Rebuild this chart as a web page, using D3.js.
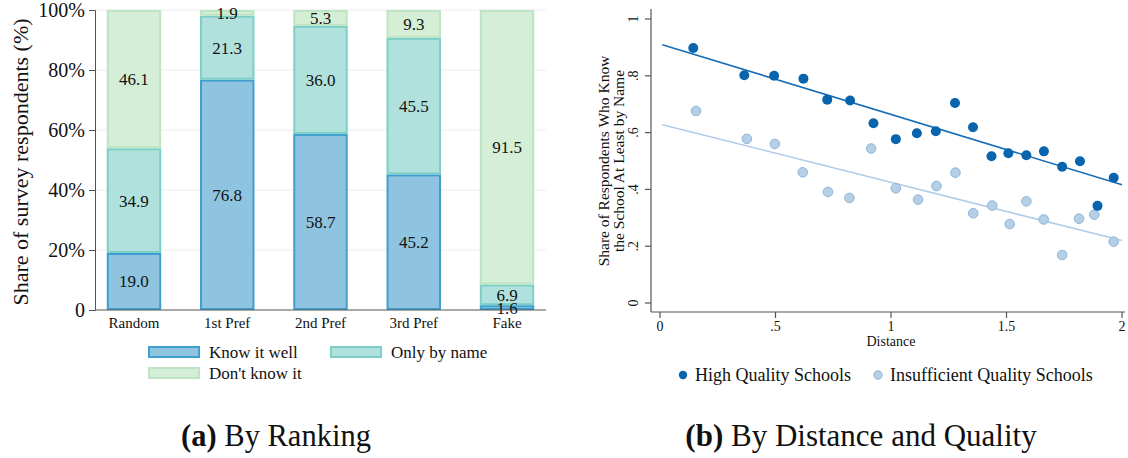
<!DOCTYPE html>
<html>
<head>
<meta charset="utf-8">
<script src="https://cdn.jsdelivr.net/npm/d3@7"></script>
<style>
  html, body { margin: 0; padding: 0; background: #fff; }
  svg { display: block; }
  text { font-family: "Liberation Serif", "DejaVu Serif", serif; fill: #111; }
</style>
</head>
<body>
<svg id="fig" width="1128" height="458"></svg>
<script>
// ---------- Panel (a): knowledge of schools by ranking ----------
const categories = ["Random", "1st Pref", "2nd Pref", "3rd Pref", "Fake"];
const knowWell   = [19.0, 76.8, 58.7, 45.2, 1.6];
const byName     = [34.9, 21.3, 36.0, 45.5, 6.9];
const dontKnow   = [46.1, 1.9, 5.3, 9.3, 91.5];
const seriesNames = ["Know it well", "Only by name", "Don't know it"];
const pctTicks = [0, 20, 40, 60, 80, 100];
const pctTickLabels = ["0", "20%", "40%", "60%", "80%", "100%"];

// ---------- Panel (b): share knowing the school, by distance ----------
const highDist  = [0.144, 0.365, 0.494, 0.621, 0.724, 0.823, 0.924, 1.021, 1.112, 1.194,
                   1.277, 1.355, 1.435, 1.508, 1.586, 1.662, 1.741, 1.818, 1.894, 1.964];
const highShare = [0.898, 0.802, 0.800, 0.790, 0.716, 0.713, 0.633, 0.577, 0.598, 0.605,
                   0.704, 0.619, 0.517, 0.527, 0.520, 0.534, 0.480, 0.499, 0.342, 0.441];
const lowDist   = [0.156, 0.376, 0.497, 0.618, 0.727, 0.820, 0.914, 1.021, 1.117, 1.197,
                   1.279, 1.356, 1.438, 1.514, 1.586, 1.661, 1.741, 1.814, 1.880, 1.964];
const lowShare  = [0.676, 0.578, 0.560, 0.460, 0.391, 0.370, 0.544, 0.404, 0.364, 0.412,
                   0.459, 0.316, 0.343, 0.278, 0.358, 0.294, 0.169, 0.297, 0.311, 0.216];
// linear fits: [high quality, insufficient quality]
const fitIntercept = [0.912, 0.630];
const fitSlope     = [-0.248, -0.205];
const fitRange     = [0.01, 2.0];
const groupNames = ["High Quality Schools", "Insufficient Quality Schools"];
const distTicks = [0, 0.5, 1, 1.5, 2];
const distTickLabels = ["0", ".5", "1", "1.5", "2"];
const shareTicks = [0, 0.2, 0.4, 0.6, 0.8, 1];
const shareTickLabels = ["0", ".2", ".4", ".6", ".8", "1"];

const svg = d3.select("#fig");

// ===== Panel (a) =====
(function () {
  const fills   = ["#8fc4e0", "#b1e1dc", "#d5eed6"];
  const strokes = ["#3f9fd0", "#7ccfc7", "#bde4c4"];
  const g = svg.append("g");
  const x = d3.scaleBand().domain(categories).range([95, 546])
    .paddingInner(0.416).paddingOuter(0.126);
  const y = d3.scaleLinear().domain([0, 100]).range([310, 10]);

  // gridlines
  g.append("g").selectAll("line").data(pctTicks.filter(d => d > 0)).join("line")
    .attr("x1", 95).attr("x2", 546)
    .attr("y1", d => y(d)).attr("y2", d => y(d))
    .attr("stroke", "#ececec").attr("stroke-width", 1);

  const rows = categories.map((c, i) => ({ cat: c, k0: knowWell[i], k1: byName[i], k2: dontKnow[i] }));
  const stack = d3.stack().keys(["k0", "k1", "k2"])(rows);

  stack.forEach((layer, li) => {
    const lg = g.append("g");
    lg.selectAll("rect").data(layer).join("rect")
      .attr("x", d => x(d.data.cat) + 1)
      .attr("width", x.bandwidth() - 2)
      .attr("y", d => y(d[1]) + 1)
      .attr("height", d => Math.max(0, y(d[0]) - y(d[1]) - 2))
      .attr("fill", fills[li]).attr("stroke", strokes[li]).attr("stroke-width", 2);
  });
  stack.forEach((layer) => {
    g.append("g").selectAll("text").data(layer).join("text")
      .attr("x", d => x(d.data.cat) + x.bandwidth() / 2)
      .attr("y", d => y((d[0] + d[1]) / 2))
      .attr("dy", "0.35em")
      .attr("text-anchor", "middle")
      .attr("font-size", 17)
      .text(d => (d[1] - d[0]).toFixed(1));
  });

  // axes
  const yAxis = d3.axisLeft(y).tickValues(pctTicks)
    .tickFormat((d, i) => pctTickLabels[i]).tickSize(6).tickPadding(4);
  const ya = g.append("g").attr("transform", "translate(95,0)").call(yAxis);
  ya.select(".domain").attr("stroke", "#555");
  ya.selectAll(".tick line").attr("stroke", "#555");
  ya.selectAll(".tick text").attr("font-size", 20).attr("font-family", "Liberation Serif").attr("fill", "#111");

  const xAxis = d3.axisBottom(x).tickSize(0).tickPadding(7);
  const xa = g.append("g").attr("transform", "translate(0,310)").call(xAxis);
  xa.select(".domain").attr("stroke", "#555").attr("d", "M95,0H546");
  xa.selectAll(".tick text").attr("font-size", 15).attr("font-family", "Liberation Serif").attr("fill", "#111");

  g.append("text")
    .attr("transform", "translate(20,162) rotate(-90)")
    .attr("text-anchor", "middle").attr("dy", "0.35em")
    .attr("font-size", 22)
    .text("Share of survey respondents (%)");

  // legend
  const legPos = [[148, 346], [330, 346], [148, 367]];
  seriesNames.forEach((name, i) => {
    const [lx, ly] = legPos[i];
    g.append("rect").attr("x", lx + 1).attr("y", ly + 1).attr("width", 50).attr("height", 10)
      .attr("fill", fills[i]).attr("stroke", strokes[i]).attr("stroke-width", 2);
    g.append("text").attr("x", lx + 61).attr("y", ly + 6).attr("dy", "0.35em")
      .attr("font-size", 17).text(name);
  });

  const cap = g.append("text").attr("x", 276).attr("y", 446)
    .attr("text-anchor", "middle").attr("font-size", 30.5);
  cap.append("tspan").attr("font-weight", "bold").text("(a)");
  cap.append("tspan").text(" By Ranking");
})();

// ===== Panel (b) =====
(function () {
  const dark = "#0864ad", lightFill = "#b5cfe6", lightStroke = "#8eb6d8";
  const darkLine = "#176db6", lightLine = "#afcde9";
  const g = svg.append("g");
  const x = d3.scaleLinear().domain([0, 2]).range([660, 1122]);
  const y = d3.scaleLinear().domain([0, 1]).range([303, 19]);

  // axes
  g.append("line").attr("x1", 651).attr("x2", 651).attr("y1", 9).attr("y2", 312)
    .attr("stroke", "#555").attr("stroke-width", 1.2);
  g.append("line").attr("x1", 651).attr("x2", 1125).attr("y1", 312).attr("y2", 312)
    .attr("stroke", "#555").attr("stroke-width", 1.2);

  const yt = g.append("g").selectAll("g").data(shareTicks).join("g");
  yt.append("line").attr("x1", 645).attr("x2", 651)
    .attr("y1", d => y(d)).attr("y2", d => y(d)).attr("stroke", "#555").attr("stroke-width", 1.2);
  yt.append("text")
    .attr("transform", d => `translate(638,${y(d)}) rotate(-90)`)
    .attr("text-anchor", "middle").attr("font-size", 14)
    .text((d, i) => shareTickLabels[i]);

  const xt = g.append("g").selectAll("g").data(distTicks).join("g");
  xt.append("line").attr("x1", d => x(d)).attr("x2", d => x(d))
    .attr("y1", 312).attr("y2", 318).attr("stroke", "#555").attr("stroke-width", 1.2);
  xt.append("text").attr("x", d => x(d)).attr("y", 331)
    .attr("text-anchor", "middle").attr("font-size", 14)
    .text((d, i) => distTickLabels[i]);

  g.append("text").attr("x", 891).attr("y", 346).attr("text-anchor", "middle")
    .attr("font-size", 14).text("Distance");

  const yt1 = g.append("text").attr("text-anchor", "middle").attr("font-size", 15.5)
    .attr("transform", "translate(609,161) rotate(-90)");
  yt1.append("tspan").attr("x", 0).attr("y", 0).text("Share of Respondents Who Know");
  yt1.append("tspan").attr("x", 0).attr("y", 14.5).text("the School At Least by Name");

  // fit lines
  const line = d3.line().x(d => x(d[0])).y(d => y(d[1]));
  const fitColors = [darkLine, lightLine];
  fitIntercept.forEach((b0, i) => {
    const pts = fitRange.map(v => [v, b0 + fitSlope[i] * v]);
    g.append("path").attr("d", line(pts)).attr("fill", "none")
      .attr("stroke", fitColors[i]).attr("stroke-width", 1.6);
  });

  // points
  g.append("g").selectAll("circle").data(d3.zip(lowDist, lowShare)).join("circle")
    .attr("cx", d => x(d[0])).attr("cy", d => y(d[1])).attr("r", 4.8)
    .attr("fill", lightFill).attr("stroke", lightStroke).attr("stroke-width", 1);
  g.append("g").selectAll("circle").data(d3.zip(highDist, highShare)).join("circle")
    .attr("cx", d => x(d[0])).attr("cy", d => y(d[1])).attr("r", 5)
    .attr("fill", dark);

  // legend
  const legX = [683, 878];
  groupNames.forEach((name, i) => {
    g.append("circle").attr("cx", legX[i]).attr("cy", 375).attr("r", 4.2)
      .attr("fill", i === 0 ? dark : lightFill)
      .attr("stroke", i === 0 ? "none" : lightStroke).attr("stroke-width", 1);
    g.append("text").attr("x", legX[i] + 12).attr("y", 375).attr("dy", "0.35em")
      .attr("font-size", 18).text(name);
  });

  const cap = g.append("text").attr("x", 861).attr("y", 446)
    .attr("text-anchor", "middle").attr("font-size", 31);
  cap.append("tspan").attr("font-weight", "bold").text("(b)");
  cap.append("tspan").text(" By Distance and Quality");
})();
</script>
</body>
</html>
